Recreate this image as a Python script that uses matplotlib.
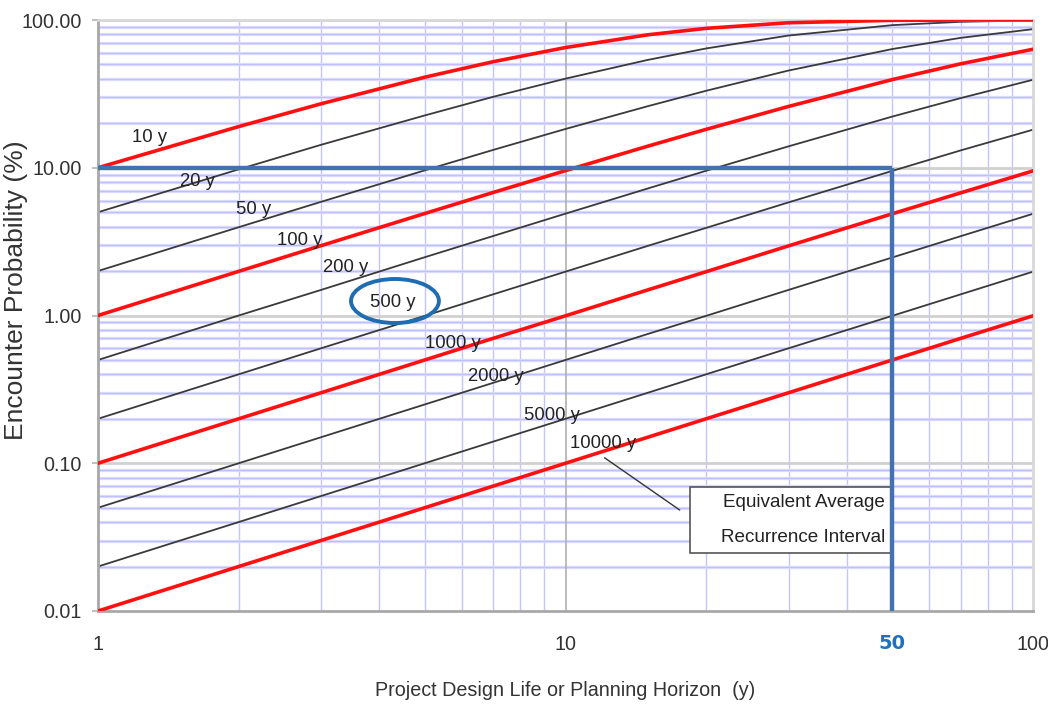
import numpy as np
import matplotlib.pyplot as plt
from matplotlib.patches import Ellipse, Rectangle
from matplotlib.ticker import FixedLocator, NullFormatter

plt.rcParams['font.family'] = ['Liberation Sans', 'DejaVu Sans']

# design life (years)
years = [1, 2, 3, 5, 7, 10, 15, 20, 30, 50, 70, 100]

# encounter probability (%) for each recurrence interval
p10 = [10, 19, 27.1, 41, 52.2, 65.1, 79.4, 87.8, 95.8, 99.5, 99.9, 100]
p20 = [5, 9.75, 14.3, 22.6, 30.2, 40.1, 53.7, 64.2, 78.5, 92.3, 97.2, 99.4]
p50 = [2, 3.96, 5.88, 9.6, 13.2, 18.3, 26.1, 33.2, 45.5, 63.6, 75.7, 86.7]
p100 = [1, 1.99, 2.97, 4.9, 6.8, 9.56, 14.0, 18.2, 26.0, 39.5, 50.5, 63.4]
p200 = [0.5, 1.0, 1.49, 2.48, 3.45, 4.89, 7.24, 9.54, 13.96, 22.2, 29.6, 39.4]
p500 = [0.2, 0.4, 0.6, 0.995, 1.39, 1.98, 2.96, 3.92, 5.83, 9.52, 13.1, 18.1]
p1000 = [0.1, 0.2, 0.3, 0.5, 0.7, 0.995, 1.49, 1.98, 2.96, 4.88, 6.76, 9.52]
p2000 = [0.05, 0.1, 0.15, 0.25, 0.35, 0.5, 0.75, 0.995, 1.49, 2.47, 3.44, 4.88]
p5000 = [0.02, 0.04, 0.06, 0.1, 0.14, 0.2, 0.3, 0.4, 0.6, 0.995, 1.39, 1.98]
p10000 = [0.01, 0.02, 0.03, 0.05, 0.07, 0.1, 0.15, 0.2, 0.3, 0.5, 0.7, 0.995]

red_curves = [p10, p100, p1000, p10000]
black_curves = [p20, p50, p200, p500, p2000, p5000]

# curve labels: text, x, y
labels = ['10 y', '20 y', '50 y', '100 y', '200 y', '500 y',
          '1000 y', '2000 y', '5000 y', '10000 y']
label_x = [1.18, 1.50, 1.97, 2.41, 3.03, 3.82, 5.00, 6.19, 8.15, 10.2]
label_y = [16.1, 8.13, 5.18, 3.24, 2.10, 1.22, 0.65, 0.384, 0.212, 0.135]

design_life = 50
target_prob = 10

fig = plt.figure(figsize=(10.48, 7.07), dpi=100)
ax = fig.add_axes([98 / 1048, 96 / 707, 935 / 1048, 591 / 707])
ax.set_xscale('log')
ax.set_yscale('log')
ax.set_xlim(1, 100)
ax.set_ylim(0.01, 100)

# grid
minor_x = [m * d for d in (1, 10) for m in range(2, 10)]
minor_y = [m * d for d in (0.01, 0.1, 1, 10) for m in range(2, 10)]
for v in minor_x:
    ax.axvline(v, color='#c4c4ff', lw=1.0, zorder=0)
for v in minor_y:
    ax.axhline(v, color='#dcdcff', lw=2.4, zorder=0)
    ax.axhline(v, color='#c0c0ff', lw=0.8, zorder=0)
for v in [10]:
    ax.axvline(v, color='#b0b0b0', lw=1.2, zorder=0)
for v in [0.1, 1, 10, 100]:
    ax.axhline(v, color='#d0d0d0', lw=2.0, zorder=0)

for c in black_curves:
    ax.plot(years, c, color='#3a3a3a', lw=1.3, zorder=2)
for c in red_curves:
    ax.plot(years, c, color='#ff1010', lw=2.6, zorder=3)

for t, x, y in zip(labels, label_x, label_y):
    ax.text(x, y, t, fontsize=13.3, color='#222222', ha='left', va='center', zorder=4)

# highlight lines for 50-year design life
ax.plot([1, design_life], [target_prob, target_prob], color='#4472b0', lw=3.2,
        solid_capstyle='butt', zorder=5)
ax.plot([design_life, design_life], [0.01, target_prob], color='#4472b0', lw=3.2,
        solid_capstyle='butt', zorder=5)
ax.text(design_life, -0.055, '50', transform=ax.get_xaxis_transform(),
        ha='center', va='center', fontsize=14, fontweight='bold',
        color='#2070c0', family=['DejaVu Sans'])

ax.add_patch(Ellipse((0.3176, 0.5245), 0.094, 0.0745, transform=ax.transAxes,
                     fill=False, edgecolor='#1f6db0', lw=2.8, zorder=6))

# annotation box
ax.add_patch(Rectangle((0.633, 0.098), 0.217, 0.112, transform=ax.transAxes,
                       facecolor='white', edgecolor='#555555', lw=1.2, zorder=4))
ax.text(0.842, 0.184, 'Equivalent Average', transform=ax.transAxes,
        ha='right', va='center', fontsize=13.6, color='#222222', zorder=5)
ax.text(0.842, 0.125, 'Recurrence Interval', transform=ax.transAxes,
        ha='right', va='center', fontsize=13.6, color='#222222', zorder=5)
ax.plot([0.542, 0.622], [0.259, 0.171], transform=ax.transAxes,
        color='#333333', lw=1.0, zorder=4)

# axes styling
ax.yaxis.set_major_locator(FixedLocator([0.01, 0.1, 1, 10, 100]))
ax.set_yticklabels(['0.01', '0.10', '1.00', '10.00', '100.00'])
ax.xaxis.set_major_locator(FixedLocator([1, 10, 100]))
ax.set_xticklabels(['1', '10', '100'])
ax.xaxis.set_minor_formatter(NullFormatter())
ax.yaxis.set_minor_formatter(NullFormatter())
ax.tick_params(axis='both', which='minor', length=0)
ax.tick_params(axis='y', which='major', length=4.5, color='#c0c0c0', width=1.5,
               labelsize=14.2, labelcolor='#333333', pad=7)
ax.tick_params(axis='x', which='major', length=0, labelsize=14.2,
               labelcolor='#333333', pad=17)
for s in ['left', 'bottom']:
    ax.spines[s].set_color('#a8a8a8')
    ax.spines[s].set_linewidth(2)
for s in ['top', 'right']:
    ax.spines[s].set_color('#d8d8d8')
    ax.spines[s].set_linewidth(2)

ax.set_xlabel('Project Design Life or Planning Horizon  (y)', fontsize=14.2,
              color='#333333')
ax.set_ylabel('Encounter Probability (%)', fontsize=19, color='#333333')
ax.xaxis.set_label_coords(0.5, -0.134)
ax.yaxis.set_label_coords(-0.0877, 0.543)
ax.xaxis.label.set_va('center')
ax.yaxis.label.set_va('center')

fig.savefig('out.png', dpi=100)
